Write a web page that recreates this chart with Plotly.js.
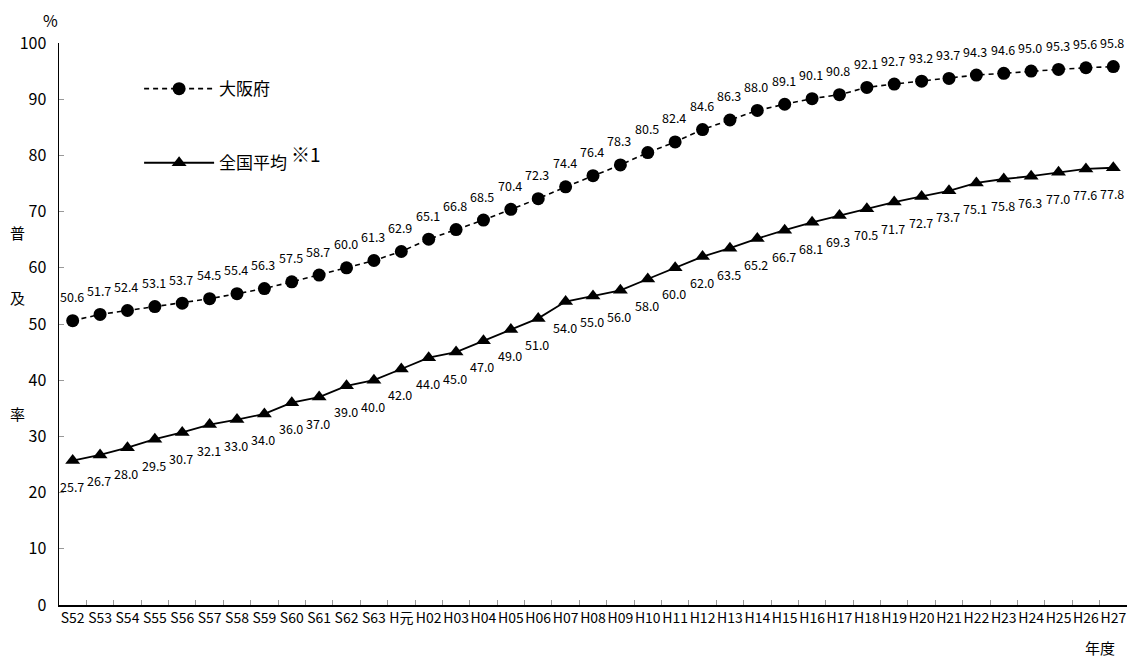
<!DOCTYPE html>
<html>
<head>
<meta charset="utf-8">
<script src="https://cdn.plot.ly/plotly-3.0.1.min.js"></script>
<style>html,body{margin:0;padding:0;background:#fff;}#chart{width:1136px;height:661px;}</style>
</head>
<body>
<div id="chart"></div>
<script>
const years = ["S52","S53","S54","S55","S56","S57","S58","S59","S60","S61","S62","S63","H元",
  "H02","H03","H04","H05","H06","H07","H08","H09","H10","H11","H12","H13","H14","H15","H16","H17",
  "H18","H19","H20","H21","H22","H23","H24","H25","H26","H27"];
const osaka = [50.6,51.7,52.4,53.1,53.7,54.5,55.4,56.3,57.5,58.7,60.0,61.3,62.9,65.1,66.8,68.5,70.4,72.3,74.4,76.4,78.3,80.5,82.4,84.6,86.3,88.0,89.1,90.1,90.8,92.1,92.7,93.2,93.7,94.3,94.6,95.0,95.3,95.6,95.8];
const national = [25.7,26.7,28.0,29.5,30.7,32.1,33.0,34.0,36.0,37.0,39.0,40.0,42.0,44.0,45.0,47.0,49.0,51.0,54.0,55.0,56.0,58.0,60.0,62.0,63.5,65.2,66.7,68.1,69.3,70.5,71.7,72.7,73.7,75.1,75.8,76.3,77.0,77.6,77.8];
const seriesNames = ["大阪府", "全国平均 <sup><span style=\"font-size:19px\">※1</span></sup>"];
const yTicks = [0,10,20,30,40,50,60,70,80,90,100];

const FONT = '"Noto Sans CJK JP", "Noto Sans", sans-serif';

const traces = [
  {x: years, y: osaka, name: seriesNames[0], type: 'scatter', mode: 'lines+markers',
   legendgroup: 'a',
   line: {color: '#000', width: 1.6, dash: '5px,4px'},
   marker: {symbol: 'circle', size: 13, color: '#000'}},
  {x: years, y: national, name: seriesNames[1], type: 'scatter', mode: 'lines+markers',
   legendgroup: 'b',
   line: {color: '#000', width: 1.8},
   marker: {symbol: 'triangle-up', size: 13, color: '#000'}}
];

const ann = [];
years.forEach((c, i) => {
  ann.push({x: c, y: osaka[i], xref: 'x', yref: 'y', text: osaka[i].toFixed(1), showarrow: false,
    yshift: 24, xshift: -1, font: {family: FONT, size: 12.5, color: '#000'}});
  ann.push({x: c, y: national[i], xref: 'x', yref: 'y', text: national[i].toFixed(1), showarrow: false,
    yshift: -26, xshift: -1, font: {family: FONT, size: 12.5, color: '#000'}});
});
const side = [["普", 0.6637], ["及", 0.5463], ["率", 0.3416]];
side.forEach(s => ann.push({xref: 'paper', yref: 'paper', x: -0.0384, y: s[1], xanchor: 'center', yanchor: 'middle',
  text: s[0], showarrow: false, font: {family: FONT, size: 15, color: '#000'}}));
ann.push({xref: 'paper', yref: 'paper', x: -0.0084, y: 1.041, xanchor: 'center', yanchor: 'middle',
  text: '%', showarrow: false, font: {family: FONT, size: 16, color: '#000'}});
ann.push({xref: 'paper', yref: 'paper', x: 0.9747, y: -0.0765, xanchor: 'center', yanchor: 'middle',
  text: '年度', showarrow: false, font: {family: FONT, size: 15, color: '#000'}});

const layout = {
  width: 1136, height: 661,
  margin: {l: 59, r: 9, t: 43, b: 56},
  paper_bgcolor: '#fff', plot_bgcolor: '#fff',
  font: {family: FONT, color: '#000'},
  showlegend: true,
  legend: {x: 0.075, y: 0.95, xanchor: 'left', yanchor: 'top', bgcolor: 'rgba(0,0,0,0)',
    font: {family: FONT, size: 17, color: '#000'}, tracegroupgap: 49, itemwidth: 70},
  xaxis: {type: 'category', showgrid: false, zeroline: false, showline: true, linecolor: '#000', linewidth: 1.5,
    ticks: 'inside', tickson: 'boundaries', ticklen: 5, tickcolor: '#999', tickwidth: 1,
    tickfont: {family: FONT, size: 14, color: '#000'}, tickangle: 0, range: [-0.5, 38.5]},
  yaxis: {range: [0, 100], tickvals: yTicks, showgrid: false, zeroline: false, showline: true,
    linecolor: '#000', linewidth: 1.5, ticks: 'inside', ticklen: 5, tickcolor: '#999',
    tickfont: {family: FONT, size: 16, color: '#000'}, ticklabelstandoff: 8},
  annotations: ann
};

Plotly.newPlot('chart', traces, layout, {displayModeBar: false, staticPlot: true});
</script>
</body>
</html>
